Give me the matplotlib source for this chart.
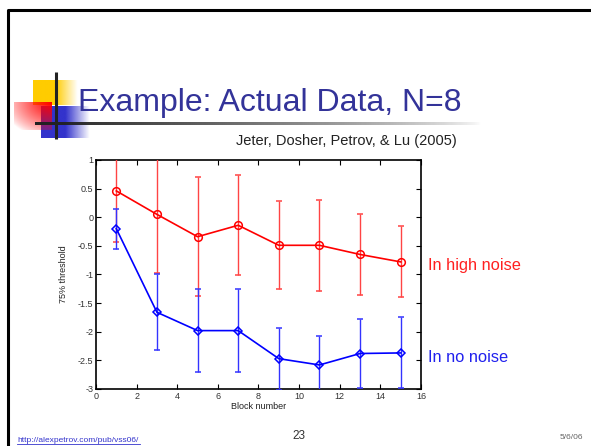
import numpy as np
import matplotlib
matplotlib.use("Agg")
import matplotlib.pyplot as plt

# ---- data ----
blocks = [1, 3, 5, 7, 9, 11, 13, 15]
high_noise_mean = [0.46, 0.05, -0.34, -0.14, -0.49, -0.49, -0.65, -0.78]
high_noise_err = [0.89, 1.02, 1.04, 0.87, 0.77, 0.80, 0.71, 0.62]
no_noise_mean = [-0.20, -1.66, -1.98, -1.98, -2.47, -2.58, -2.38, -2.37]
no_noise_err = [0.35, 0.66, 0.73, 0.72, 0.54, 0.51, 0.61, 0.62]
xticks = [0, 2, 4, 6, 8, 10, 12, 14, 16]
yticks = [1, 0.5, 0, -0.5, -1, -1.5, -2, -2.5, -3]

W, H = 591, 446
fig = plt.figure(figsize=(W / 100, H / 100), dpi=100)
fig.patch.set_facecolor("white")

# ---- slide decoration layer (pixel coordinates) ----
bg = fig.add_axes([0, 0, 1, 1], zorder=0)
bg.set_xlim(0, W)
bg.set_ylim(H, 0)
bg.axis("off")

def grad_rect(x0, x1, y0, y1, rgb, solid_frac_x=0.5, corner=False):
    nx, ny = 80, 40
    img = np.ones((ny, nx, 4))
    img[..., :3] = rgb
    xs = np.linspace(0, 1, nx)
    ys = np.linspace(0, 1, ny)
    if corner:
        X, Y = np.meshgrid(xs, ys)
        a = np.clip(1.0 - np.hypot(1 - X, Y) / 1.3, 0, 1) ** 0.8
    else:
        a = np.clip((1 - xs) / (1 - solid_frac_x), 0, 1)
        a = np.tile(a, (ny, 1))
    img[..., 3] = a
    bg.imshow(img, extent=[x0, x1, y1, y0], aspect="auto", interpolation="bilinear", zorder=1)

grad_rect(33, 78, 80, 105, (1.0, 0.8, 0.0), solid_frac_x=0.5)
grad_rect(41, 90, 106, 138, (0.2, 0.2, 0.8), solid_frac_x=0.5)
grad_rect(14, 52, 102, 130, (1.0, 0.0, 0.0), corner=True)

# horizontal gradient line under title
nl = 200
line_img = np.ones((1, nl, 4))
line_img[..., :3] = 0.13
line_img[0, :, 3] = np.linspace(1, 0, nl) ** 0.7
bg.imshow(line_img, extent=[35, 482, 125.5, 122.5], aspect="auto", interpolation="bilinear", zorder=2)
# vertical black line
bg.plot([56, 56], [72, 139], color="#222222", lw=2.2, zorder=3, solid_capstyle="butt")
# slide border
bg.plot([7.5, 7.5, W], [H, 9.5, 9.5], color="black", lw=2.2, zorder=3, solid_capstyle="butt")

# ---- slide text ----
def fx(x):
    return x / W

def fy(y):
    return 1 - y / H

SLIDE_FONT = "Liberation Sans"
fig.text(fx(78), fy(111.5), "Example: Actual Data, N=8", fontsize=23, color="#333399",
         family=SLIDE_FONT, va="baseline", ha="left")
fig.text(fx(457), fy(145.5), "Jeter, Dosher, Petrov, & Lu (2005)", fontsize=10.5, color="#222222",
         family=SLIDE_FONT, va="baseline", ha="right")
fig.text(fx(428), fy(270), "In high noise", fontsize=11.8, color="#ff2020",
         family=SLIDE_FONT, va="baseline", ha="left")
fig.text(fx(428), fy(362), "In no noise", fontsize=11.8, color="#2020ee",
         family=SLIDE_FONT, va="baseline", ha="left")
fig.text(fx(17), fy(442.5), "http://alexpetrov.com/pub/vss06/", fontsize=6.0, color="#3333cc",
         family=SLIDE_FONT, va="baseline", ha="left")
bg.plot([17, 140], [443.8, 443.8], color="#3333cc", lw=0.6, zorder=3)
fig.text(fx(299), fy(439), "23", fontsize=8.5, color="#333333",
         family=SLIDE_FONT, va="baseline", ha="center")
fig.text(fx(583), fy(439), "5/6/06", fontsize=6.0, color="#666666",
         family=SLIDE_FONT, va="baseline", ha="right")

# ---- chart ----
ax = fig.add_axes([96 / W, 1 - 389 / H, (421 - 96) / W, (389 - 160) / H], zorder=2)
ax.set_facecolor("white")

ax.errorbar(blocks, high_noise_mean, yerr=high_noise_err, color="#ff0000", ecolor="#ff4444",
            elinewidth=1.0, capsize=2.3, capthick=1.0, lw=1.2, marker="o", ms=5.5,
            mfc="none", mec="#ff0000", mew=1.1, zorder=3)
ax.errorbar(blocks, no_noise_mean, yerr=no_noise_err, color="#0000ff", ecolor="#3333ff",
            elinewidth=1.0, capsize=2.3, capthick=1.0, lw=1.2, marker="D", ms=4.2,
            mfc="none", mec="#0000ff", mew=1.1, zorder=3)

ax.set_xlim(0, 16)
ax.set_ylim(-3, 1)
ax.set_xticks(xticks)
ax.set_yticks(yticks)
ax.set_yticklabels([f"{v:g}" for v in yticks])
ax.tick_params(direction="in", top=True, right=True, length=3.5, width=0.8,
               labelsize=6.5, labelcolor="#333333", pad=2)
for lab in ax.get_xticklabels() + ax.get_yticklabels():
    lab.set_family("Liberation Sans")
for s in ax.spines.values():
    s.set_linewidth(1.2)
ax.set_xlabel("Block number", fontsize=6.5, family="Liberation Sans", color="#222222", labelpad=1)
ax.set_ylabel("75% threshold", fontsize=6.5, family="Liberation Sans", color="#222222", labelpad=7)

fig.savefig("out.png", dpi=100, facecolor="white")
